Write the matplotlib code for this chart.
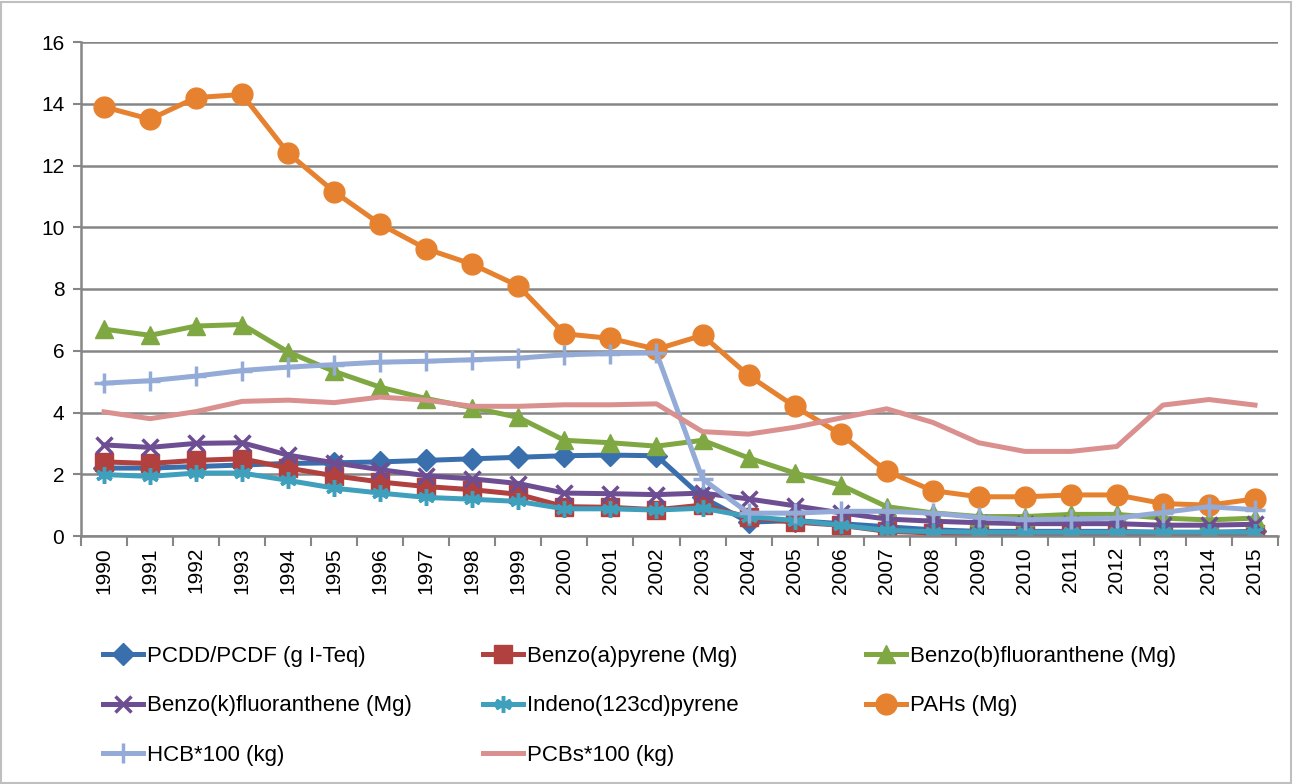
#emissions trend chart

import numpy as np
from matplotlib import pyplot as plt
from matplotlib.lines import Line2D
from matplotlib.patches import Rectangle

plt.rcParams['font.family'] = ['Liberation Sans Narrow', 'Liberation Sans', 'DejaVu Sans']

years = [str(y) for y in range(1990, 2016)]

pcdd = [2.2, 2.2, 2.25, 2.3, 2.35, 2.37, 2.4, 2.45, 2.5, 2.55, 2.6, 2.62, 2.6,
        1.25, 0.45, 0.5, 0.4, 0.3, 0.2, 0.15, 0.15, 0.15, 0.15, 0.12, 0.12, 0.15]
benzo_a = [2.4, 2.35, 2.45, 2.5, 2.2, 1.95, 1.75, 1.6, 1.5, 1.35, 0.95, 0.93, 0.85,
           1.0, 0.6, 0.45, 0.35, 0.15, 0.1, 0.05, 0.05, 0.05, 0.05, 0.05, 0.05, 0.05]
benzo_b = [6.7, 6.5, 6.8, 6.85, 5.96, 5.33, 4.82, 4.45, 4.16, 3.84, 3.1, 3.02, 2.91,
           3.1, 2.53, 2.04, 1.65, 0.95, 0.75, 0.63, 0.63, 0.7, 0.7, 0.58, 0.52, 0.58]
benzo_k = [2.95, 2.87, 3.0, 3.02, 2.62, 2.37, 2.15, 1.95, 1.85, 1.7, 1.39, 1.37, 1.34,
           1.39, 1.2, 0.98, 0.75, 0.55, 0.48, 0.43, 0.4, 0.4, 0.4, 0.35, 0.35, 0.38]
indeno = [1.99, 1.93, 2.04, 2.04, 1.8, 1.55, 1.39, 1.25, 1.19, 1.12, 0.88, 0.88, 0.84,
          0.9, 0.63, 0.5, 0.35, 0.18, 0.14, 0.12, 0.12, 0.12, 0.12, 0.12, 0.12, 0.12]
pahs = [13.9, 13.5, 14.2, 14.3, 12.4, 11.15, 10.1, 9.3, 8.8, 8.1, 6.55, 6.4, 6.05,
        6.5, 5.2, 4.2, 3.3, 2.1, 1.47, 1.27, 1.27, 1.33, 1.33, 1.05, 1.0, 1.2]
hcb = [4.95, 5.03, 5.18, 5.36, 5.47, 5.55, 5.63, 5.66, 5.71, 5.76, 5.87, 5.91, 5.93,
       1.85, 0.74, 0.74, 0.8, 0.8, 0.74, 0.6, 0.53, 0.55, 0.58, 0.76, 0.95, 0.85]
pcbs = [4.02, 3.8, 4.03, 4.36, 4.4, 4.32, 4.5, 4.4, 4.2, 4.2, 4.25, 4.25, 4.28,
        3.38, 3.3, 3.52, 3.82, 4.12, 3.68, 3.02, 2.74, 2.74, 2.9, 4.24, 4.42, 4.24]

labels = ['PCDD/PCDF (g I-Teq)', 'Benzo(a)pyrene (Mg)', 'Benzo(b)fluoranthene (Mg)',
          'Benzo(k)fluoranthene (Mg)', 'Indeno(123cd)pyrene', 'PAHs (Mg)',
          'HCB*100 (kg)', 'PCBs*100 (kg)']
series = [pcdd, benzo_a, benzo_b, benzo_k, indeno, pahs, hcb, pcbs]
colors = ['#3A6FAE', '#B0413E', '#7FA843', '#6E4E92', '#3FA0BE', '#E6822F', '#93ABD6', '#D9908F']
markers = ['D', 's', '^', 'x', (6, 2, 0), 'o', '+', None]
msizes = [11, 13, 13, 12, 12, 15, 14, 0]

fig = plt.figure(figsize=(12.94, 7.84), dpi=100)
ax = fig.add_axes([81 / 1294, 248 / 784, 1197 / 1294, 494 / 784])

x = np.arange(len(years))
handles = []
for vals, lab, c, m, ms in zip(series, labels, colors, markers, msizes):
    mew = 2.5 if m in ('x', '+', (6, 2, 0)) else 1
    h, = ax.plot(x, vals, color=c, lw=3.6, marker=m, markersize=ms,
                 markeredgewidth=mew, markeredgecolor=c, label=lab,
                 solid_joinstyle='round')
    handles.append(h)

ax.set_xlim(-0.5, len(years) - 0.5)
ax.set_ylim(0, 16)
ax.set_yticks(range(0, 17, 2))
ax.set_xticks(x)
ax.set_xticklabels(years, rotation=90, fontsize=15)
ax.set_xticks(np.arange(-0.5, len(years), 1), minor=True)
ax.tick_params(axis='x', which='major', length=0, pad=8)
ax.tick_params(axis='x', which='minor', length=7, width=1.5, color='#868686')
ax.tick_params(axis='y', length=6, width=1.5, color='#868686', labelsize=15, pad=6)
ax.grid(axis='y', color='#868686', lw=1.8)
ax.set_axisbelow(True)
for s in ['top', 'right']:
    ax.spines[s].set_visible(False)
for s in ['left', 'bottom']:
    ax.spines[s].set_color('#868686')
    ax.spines[s].set_linewidth(1.8)

# legend: three separate columns, placed where the reference has them
columns = [[0, 3, 6], [1, 4, 7], [2, 5]]
col_x = [103, 483, 866]
for col, cx in zip(columns, col_x):
    leg_h = []
    for i in col:
        h = handles[i]
        leg_h.append(Line2D([], [], color=h.get_color(), lw=3.6, marker=h.get_marker(),
                            markersize=h.get_markersize(), markeredgewidth=h.get_markeredgewidth(),
                            markeredgecolor=h.get_color(), label=labels[i]))
    fig.legend(handles=leg_h, loc='upper left', bbox_to_anchor=(cx / 1294, 1 - 646 / 784),
               frameon=False, fontsize=16, handlelength=1.8, handletextpad=0.2,
               labelspacing=1.28, borderpad=0, borderaxespad=0)

fig.patches.append(Rectangle((0.001, 0.001), 0.997, 0.997, transform=fig.transFigure,
                             fill=False, edgecolor='#BFBFBF', lw=1.5))

plt.savefig('out.png', dpi=100)
